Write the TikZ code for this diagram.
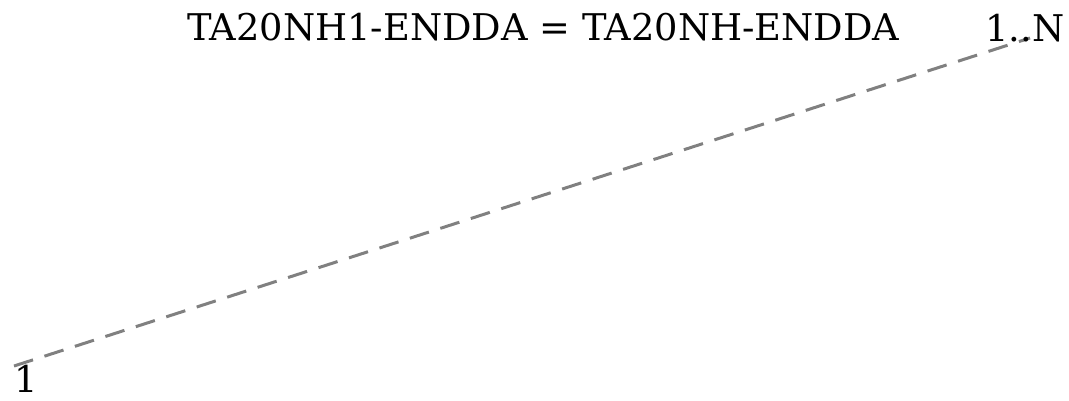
\documentclass[tikz,border=0pt]{standalone}
\usepackage{fontspec}
\setmainfont{DejaVu Serif}
\begin{document}
\begin{tikzpicture}[x=1pt,y=-1pt,
  lbl/.style={inner sep=0pt,font=\fontsize{36.8}{40}\selectfont},
  rel/.style={draw=gray,line width=3pt,dash pattern=on 20pt off 12pt}]
\useasboundingbox (0,0) rectangle (1069,400);
\coordinate (a) at (14,366);
\coordinate (b) at (1030,38);
\draw[rel] (a) -- (b);
\node[lbl,anchor=base west] (t) at (187,40) {TA20NH1-ENDDA = TA20NH-ENDDA};
\node[lbl,anchor=base west] (s) at (14,392) {1};
\node[lbl,anchor=base west] (e) at (985,41) {1..N};
\end{tikzpicture}
\end{document}
